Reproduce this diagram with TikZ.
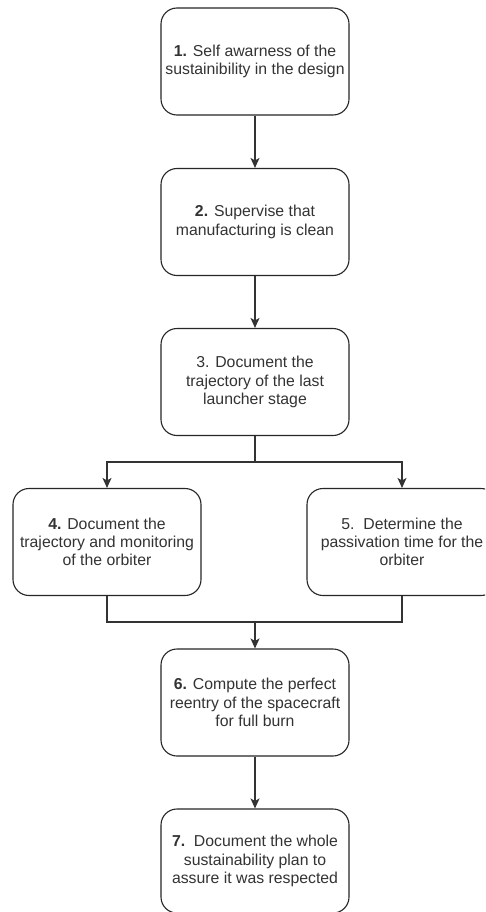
\documentclass[tikz,border=0pt]{standalone}
\usepackage{fontspec}
\setmainfont{Liberation Sans}
\usetikzlibrary{arrows.meta}
\begin{document}
\begin{tikzpicture}[x=1pt,y=-1pt,
  stepbox/.style={draw=black!85, line width=1.1pt, rounded corners=16pt,
    fill=white, minimum width=188pt, minimum height=107pt, inner sep=0pt,
    align=center, text=black!80, font=\fontsize{15.8}{18.2}\selectfont},
  link/.style={draw=black!80, line width=1.2pt},
  flow/.style={link, -{Stealth[length=10pt,width=9pt,inset=2.5pt]}}]
\useasboundingbox (0,0) rectangle (485,912);
\clip (0,0) rectangle (485,912);
\fill[white] (0,0) rectangle (485,912);

% main column and the two parallel steps
\node[stepbox] (b1) at (255,61.5) {\textbf{1.} Self awarness of the\\sustainibility in the design};
\node[stepbox] (b2) at (255,222) {\textbf{2.} Supervise that\\manufacturing is clean};
\node[stepbox] (b3) at (255,382) {3. Document the\\trajectory of the last\\launcher stage};
\node[stepbox] (b4) at (107,542) {\textbf{4.} Document the\\trajectory and monitoring\\of the orbiter};
\node[stepbox, minimum width=190pt] (b5) at (402,542) {5.\ \ Determine the\\passivation time for the\\orbiter};
\node[stepbox] (b6) at (255,702.5) {\textbf{6.} Compute the perfect\\reentry of the spacecraft\\for full burn};
\node[stepbox, minimum height=104pt] (b7) at (255,861) {\textbf{7.}\ \ Document the whole\\sustainability plan to\\assure it was respected};

% branch and merge points
\coordinate (split) at (255,462);
\coordinate (merge) at (255,622);

\draw[flow] (b1) -- (b2);
\draw[flow] (b2) -- (b3);
\draw[link] (b3) -- (split);
\draw[flow] (split) -| (b4.north);
\draw[flow] (split) -| (b5.north);
\draw[link] (b4.south) |- (merge);
\draw[link] (b5.south) |- (merge);
\draw[flow] (merge) -- (b6.north);
\draw[flow] (b6) -- (b7);
\end{tikzpicture}
\end{document}
